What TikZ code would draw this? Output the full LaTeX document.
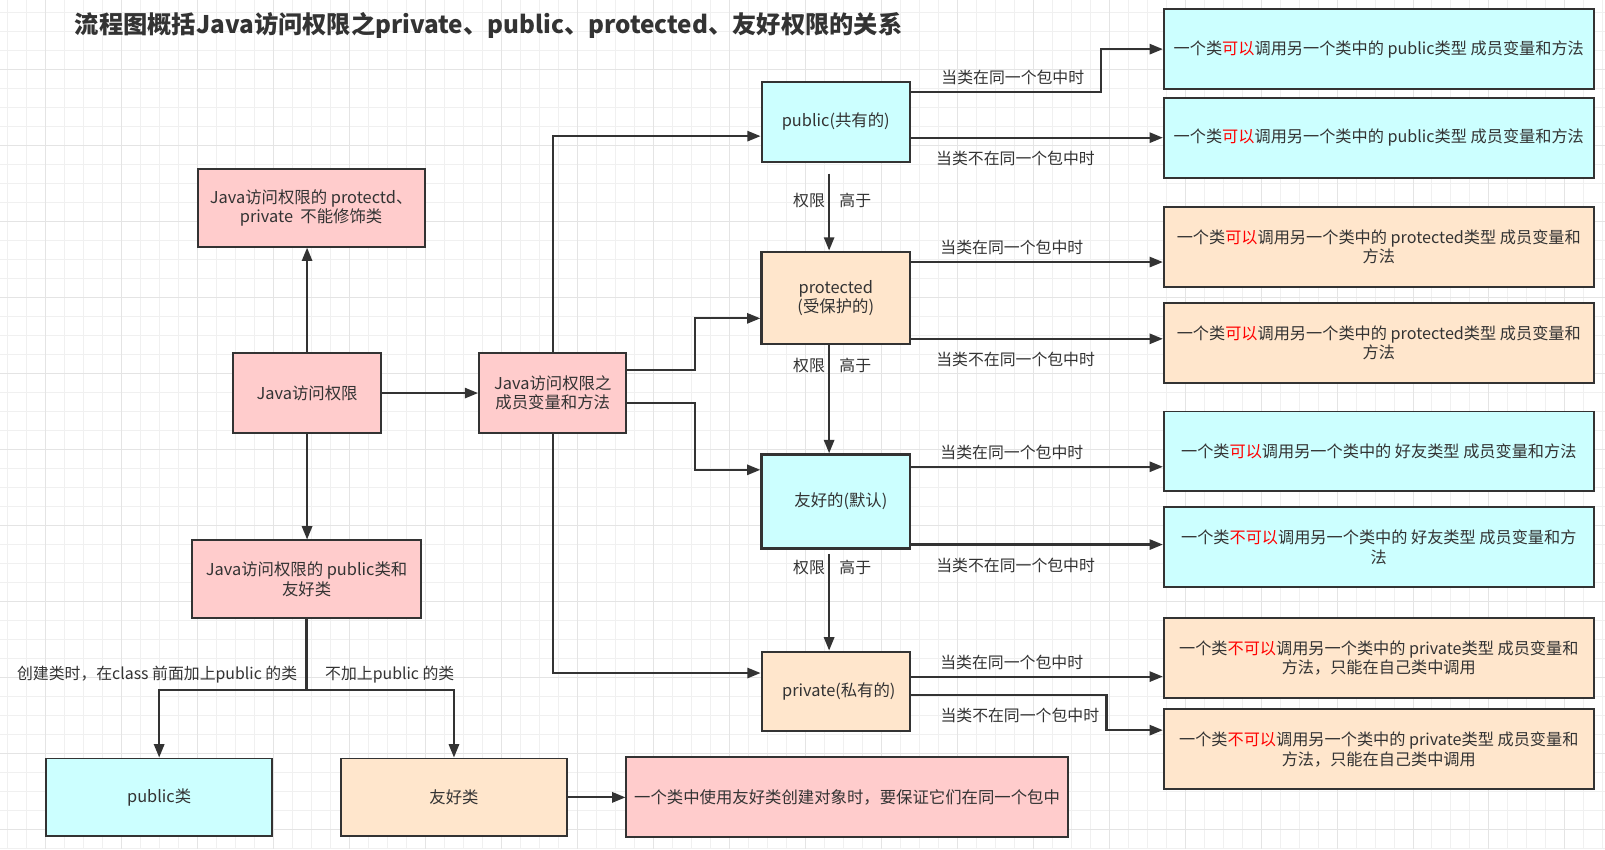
\documentclass[tikz,border=0pt]{standalone}
\usepackage{fontspec}
\setmainfont{Noto Sans CJK SC}
\usetikzlibrary{arrows.meta}
\definecolor{ink}{HTML}{333333}
\definecolor{pinkfill}{HTML}{FFCCCC}
\definecolor{cyanfill}{HTML}{CCFFFF}
\definecolor{peachfill}{HTML}{FFE6CC}
\definecolor{hot}{HTML}{FF0000}
\definecolor{gridminor}{HTML}{F0F0F0}
\definecolor{gridmajor}{HTML}{E4E4E4}
\newcommand{\kw}[1]{\textcolor{hot}{#1}}
\begin{document}
\begin{tikzpicture}
		[x=1pt,y=-1pt,
			box/.style={draw=ink,line width=1.9pt,align=center,text=ink,inner sep=2pt,font=\fontsize{16}{19}\selectfont},
			pinkbox/.style={box,fill=pinkfill},
			cyanbox/.style={box,fill=cyanfill},
			peachbox/.style={box,fill=peachfill},
			midbox/.style={minimum width=145pt,minimum height=78pt},
			rightbox/.style={minimum width=420pt,minimum height=78pt,font=\fontsize{15.8}{19}\selectfont},
			lbl/.style={text=ink,inner sep=1pt,font=\fontsize{15.5}{18}\selectfont},
			conn/.style={draw=ink,line width=2.1pt,-{Triangle[length=13pt,width=10pt]}}]
	% background and grid
	\fill[white] (0,0) rectangle (1568,829.5);
	\useasboundingbox (0,0) rectangle (1568,829.5);
	\foreach \gx in {0,...,84}
	{
		\draw[gridminor,line width=0.8pt] ({6.88+18.56*\gx},0) -- ++(0,829.5);
	}
	\foreach \gy in {0,...,44}
	{
		\draw[gridminor,line width=0.8pt] (0,{12.0+18.56*\gy}) -- ++(1568,0);
	}
	\foreach \gx in {0,...,20}
	{
		\draw[gridmajor,line width=0.8pt] ({44+74.24*\gx},0) -- ++(0,829.5);
	}
	\foreach \gy in {0,...,10}
	{
		\draw[gridmajor,line width=0.8pt] (0,{67.7+74.24*\gy}) -- ++(1568,0);
	}
	\node[anchor=west,text=ink,inner sep=0pt,font=\fontsize{23.7}{28}\selectfont\bfseries,name=title] at (73,25)
		{流程图概括Java访问权限之private、public、protected、友好权限的关系};
	% left part
	\node[pinkbox,name=noclass,minimum width=222pt,minimum height=76pt] at (304,203) {Java访问权限的 protectd、\\private\ \ 不能修饰类};
	\node[pinkbox,name=access,minimum width=144pt,minimum height=78pt] at (300,384) {Java访问权限};
	\node[pinkbox,name=classes,minimum width=223pt,minimum height=76pt] at (299.5,566) {Java访问权限的 public类和\\友好类};
	\node[pinkbox,name=member,minimum width=144pt,minimum height=78pt] at (540,384) {Java访问权限之\\成员变量和方法};
	\node[cyanbox,name=pubclass,minimum width=221pt,minimum height=76pt] at (155.5,779) {public类};
	\node[peachbox,name=frndclass,minimum width=221pt,minimum height=76pt] at (443.5,779) {友好类};
	\node[pinkbox,name=note,minimum width=431pt,minimum height=78pt] at (827.5,779) {一个类中使用友好类创建对象时，要保证它们在同一个包中};
	% the four levels
	\node[cyanbox,midbox,name=pub] at (816.5,119) {public(共有的)};
	\node[peachbox,midbox,name=prot,minimum height=90pt,line width=2.4pt] at (816.5,291) {protected\\(受保护的)};
	\node[cyanbox,midbox,name=frnd,minimum height=92pt,line width=2.4pt] at (816.5,490) {\hspace{10pt}友好的(默认)};
	\node[peachbox,midbox,name=priv] at (816.5,675.5) {\hspace{6pt}private(私有的)};
	% right column
	\node[cyanbox,rightbox,name=R1] at (1347,48) {一个类\kw{可以}调用另一个类中的 public类型 成员变量和方法};
	\node[cyanbox,rightbox,name=R2] at (1347,134.5) {一个类\kw{可以}调用另一个类中的 public类型 成员变量和方法};
	\node[peachbox,rightbox,name=R3] at (1347,241) {一个类\kw{可以}调用另一个类中的 protected类型 成员变量和\\方法};
	\node[peachbox,rightbox,name=R4] at (1347,335) {一个类\kw{可以}调用另一个类中的 protected类型 成员变量和\\方法};
	\node[cyanbox,rightbox,name=R5] at (1347,441) {一个类\kw{可以}调用另一个类中的 好友类型 成员变量和方法};
	\node[cyanbox,rightbox,name=R6] at (1347,534.5) {一个类\kw{不可以}调用另一个类中的 好友类型 成员变量和方\\法};
	\node[peachbox,rightbox,name=R7] at (1347,643) {一个类\kw{不可以}调用另一个类中的 private类型 成员变量和\\方法，只能在自己类中调用};
	\node[peachbox,rightbox,name=R8] at (1347,732) {一个类\kw{不可以}调用另一个类中的 private类型 成员变量和\\方法，只能在自己类中调用};
	% left connectors
	\draw[conn] (access.north) -- (access.north |- noclass.south);
	\draw[conn] (access.east) -- (member.west);
	\draw[conn] (access.south) -- (access.south |- classes.north);
	\draw[ink,line width=2.1pt] (classes.south) -- ++(0,69) coordinate (split);
	\draw[conn] (split) -| (pubclass.north);
	\draw[conn] (split) -| (frndclass.north);
	\node[lbl,anchor=south east] at ([xshift=-8pt,yshift=5pt]split) {创建类时，在class 前面加上public 的类};
	\node[lbl,anchor=south west] at ([xshift=17pt,yshift=5pt]split) {不加上public 的类};
	\draw[conn] (frndclass.east) -- (note.west);
	% member to the levels
	\draw[conn] (member.north) |- ([yshift=-14pt]pub.west);
	\draw[conn] ([yshift=22.5pt]member.east) -- ++(66,0) |- ([yshift=-20pt]prot.west);
	\draw[conn] ([yshift=-10pt]member.east) -- ++(66,0) |- ([yshift=31pt]frnd.west);
	\draw[conn] (member.south) |- ([yshift=18pt]priv.west);
	% ranks
	\draw[conn] ([xshift=-6.5pt,yshift=-10.7pt]pub.south) -- ([xshift=-6.5pt]prot.north)
		node[lbl,pos=0.35,left=2pt]{权限} node[lbl,pos=0.35,right=8pt]{高于};
	\draw[conn] ([xshift=-6.5pt]prot.south) -- ([xshift=-6.5pt]frnd.north)
		node[lbl,pos=0.19,left=2pt]{权限} node[lbl,pos=0.19,right=8pt]{高于};
	\draw[conn] ([xshift=-6.5pt,yshift=-4pt]frnd.south) -- ([xshift=-6.5pt]priv.north)
		node[lbl,pos=0.14,left=2pt]{权限} node[lbl,pos=0.14,right=8pt]{高于};
	% levels to the right column
	\draw[conn] ([yshift=29pt]pub.east) -- ++(186,0) node[lbl,pos=0.535,above=5pt]{当类在同一个包中时} |- (R1.west);
	\draw[conn] (pub.east |- R2.west) -- (R2.west) node[lbl,pos=0.415,below=11pt]{当类不在同一个包中时};
	\draw[conn] ([yshift=35pt]prot.east) coordinate (p3) -- (R3.west |- p3) node[lbl,pos=0.4,above=5pt]{当类在同一个包中时};
	\draw[conn] ([yshift=-40pt]prot.east) coordinate (p4) -- (R4.west |- p4) node[lbl,pos=0.415,below=11pt]{当类不在同一个包中时};
	\draw[conn] ([yshift=34pt]frnd.east) coordinate (f5) -- (R5.west |- f5) node[lbl,pos=0.4,above=5pt]{当类在同一个包中时};
	\draw[conn] ([yshift=-42pt]frnd.east) coordinate (f6) -- (R6.west |- f6) node[lbl,pos=0.415,below=11pt]{当类不在同一个包中时};
	\draw[conn] ([yshift=14.5pt]priv.east) coordinate (v7) -- (R7.west |- v7) node[lbl,pos=0.4,above=5pt]{当类在同一个包中时};
	\draw[conn] ([yshift=-3.5pt]priv.east) -- ++(191,0) node[lbl,pos=0.557,below=11pt]{当类不在同一个包中时} |- ([yshift=18.7pt]R8.west);
\end{tikzpicture}
\end{document}
